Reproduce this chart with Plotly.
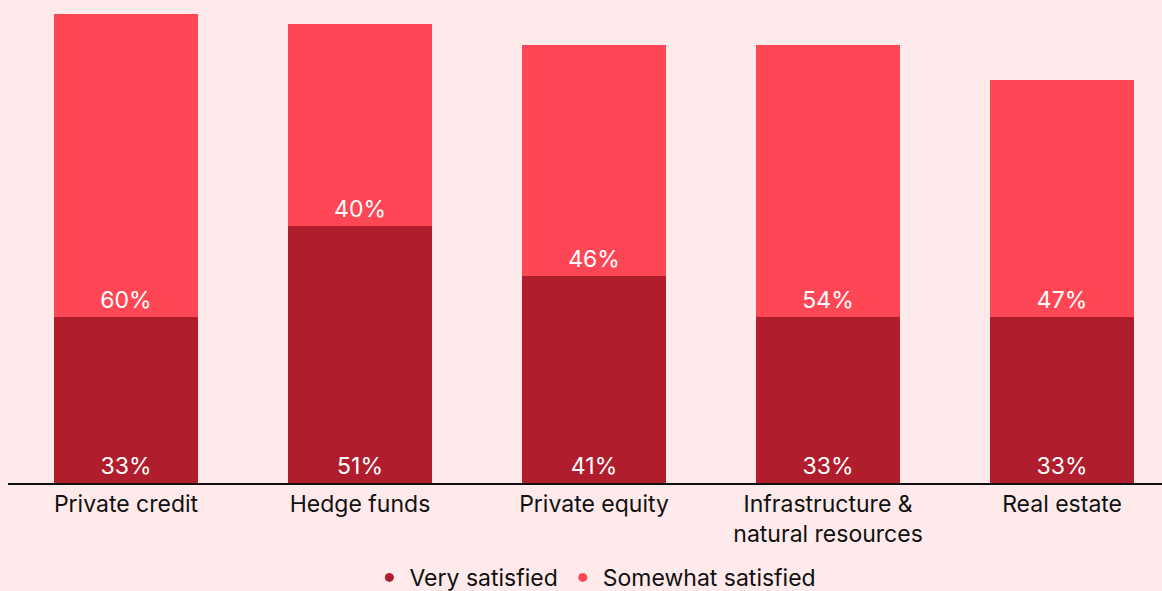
import plotly.graph_objects as go

categories = ["Private credit", "Hedge funds", "Private equity",
              "Infrastructure &<br>natural resources", "Real estate"]
very_satisfied = [33, 51, 41, 33, 33]
somewhat_satisfied = [60, 40, 46, 54, 47]

DARK = "#b01e2d"
LIGHT = "#ff4655"
BG = "#feeaea"
FONT = "Inter, Liberation Sans, sans-serif"

fig = go.Figure()

for name, vals, col in [("Very satisfied", very_satisfied, DARK),
                        ("Somewhat satisfied", somewhat_satisfied, LIGHT)]:
    fig.add_trace(go.Bar(
        x=categories, y=vals, name=name, marker_color=col,
        marker_line_width=0, width=0.615, showlegend=False,
        text=[f"{v}%" for v in vals], textposition="inside",
        insidetextanchor="start", constraintext="none",
        textfont=dict(color="white", size=23, family=FONT),
        hoverinfo="skip",
    ))
    # circular legend key
    fig.add_trace(go.Scatter(
        x=[None], y=[None], mode="markers", name=name,
        marker=dict(color=col, size=9, symbol="circle"),
    ))

fig.update_layout(
    barmode="stack",
    width=1162, height=591,
    paper_bgcolor=BG, plot_bgcolor=BG,
    margin=dict(l=8, r=0, t=0, b=108, autoexpand=False),
    font=dict(family=FONT, color="#111111", size=23),
    xaxis=dict(range=[-0.5043, 4.427], showgrid=False, zeroline=False,
               showline=True, linecolor="#111111", linewidth=1.5,
               ticks="", automargin=False,
               tickfont=dict(size=23, color="#111111")),
    yaxis=dict(range=[0, 95.83], visible=False),
    legend=dict(orientation="h", x=0.509, xanchor="center", y=-0.151,
                yanchor="top", font=dict(size=23), itemwidth=30,
                traceorder="normal", tracegroupgap=0,
                bgcolor="rgba(0,0,0,0)"),
)

fig.write_html("out.html")
